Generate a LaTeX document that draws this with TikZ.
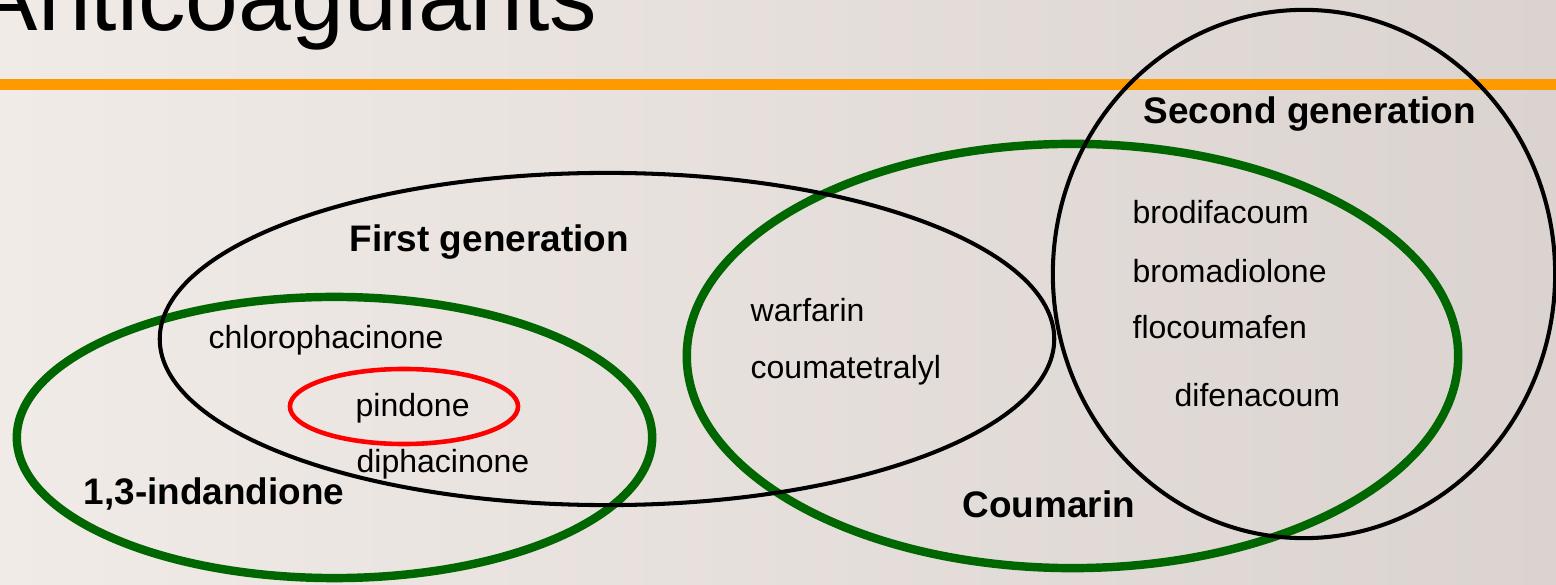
\documentclass[tikz,border=0pt]{standalone}
\usepackage{fontspec}
\setmainfont{Liberation Sans}
\usepackage{xcolor}
\definecolor{setgreen}{HTML}{006600}
\definecolor{rulebar}{HTML}{FF9900}
\definecolor{bgleft}{HTML}{F1EBE7}
\definecolor{bgmid}{HTML}{E4DCD8}
\definecolor{bgright}{HTML}{DAD3D0}

\begin{document}
\begin{tikzpicture}[
    x=0.01cm, y=-0.01cm,
    set/.style={draw=#1, line width=1.15pt},
    set/.default={black},
    family/.style={set=setgreen, line width=2.4pt},
    setname/.style={anchor=base west, inner sep=0pt, font=\fontsize{10.5}{12}\selectfont\bfseries},
    member/.style={anchor=base west, inner sep=0pt, font=\fontsize{9.1}{11}\selectfont},
]
    % Page and background
    \useasboundingbox (0,0) rectangle (1556,585);
    \shade[left color=bgleft, middle color=bgmid, right color=bgright] (0,0) rectangle (1556,585);

    % Title and rule
    \node[anchor=base west, inner sep=0pt, font=\fontsize{27}{32}\selectfont] (title) at (-26,31) {Anticoagulants};
    \fill[rulebar] (0,79) rectangle (1556,90);

    % Chemical families (green)
    \draw[family] (334.5,437.5) ellipse [x radius=3.175cm, y radius=1.405cm];
    \draw[family] (1072.5,356) ellipse [x radius=3.855cm, y radius=2.12cm];

    % Generations (black)
    \draw[set] (607,339) ellipse [x radius=4.47cm, y radius=1.66cm];
    \draw[set] (1304,274) ellipse [x radius=2.51cm, y radius=2.64cm];

    % Pindone highlight
    \draw[set=red, line width=1.3pt] (404,406.5) ellipse [x radius=1.14cm, y radius=0.375cm];

    % Set names
    \node[setname] (firstgen) at (349,252) {First generation};
    \node[setname] (secondgen) at (1143,124) {Second generation};
    \node[setname] (indandione) at (83,505) {1,3-indandione};
    \node[setname] (coumarin) at (962,518) {Coumarin};

    % Members
    \node[member] (chloro) at (208,349) {chlorophacinone};
    \node[member] (pindone) at (355,417) {pindone};
    \node[member] (diphac) at (356,473) {diphacinone};
    \node[member] (warfarin) at (750,322) {warfarin};
    \node[member] (coumatet) at ([yshift=-0.56cm]warfarin.base west) {coumatetralyl};
    \node[member] (brodi) at (1132,224) {brodifacoum};
    \node[member] (broma) at ([yshift=-0.58cm]brodi.base west) {bromadiolone};
    \node[member] (flocou) at ([yshift=-0.56cm]broma.base west) {flocoumafen};
    \node[member] (difena) at (1174,407) {difenacoum};
\end{tikzpicture}
\end{document}
